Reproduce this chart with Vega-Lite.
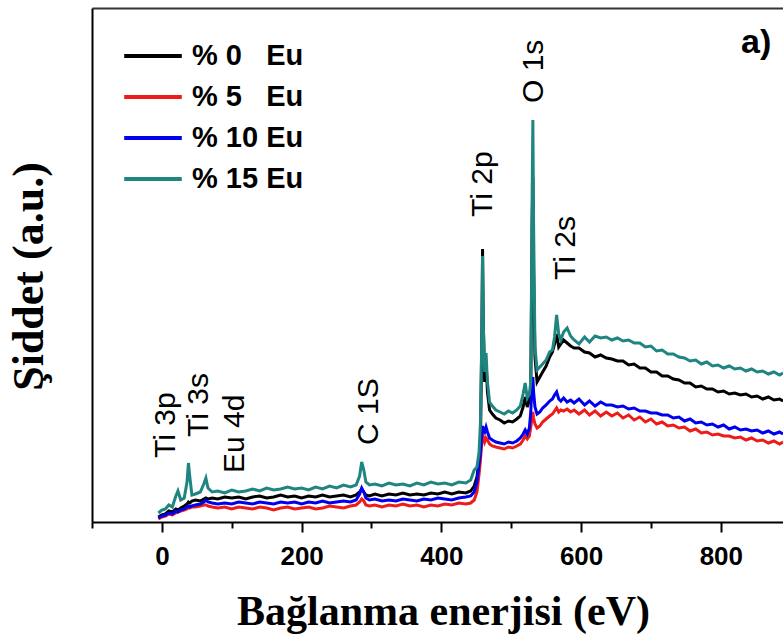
{
 "$schema": "https://vega.github.io/schema/vega-lite/v6.json",
 "width": 691,
 "height": 514,
 "autosize": {"type": "none"},
 "padding": {"left": 92, "top": 8, "right": 0, "bottom": 117},
 "background": "white",
 "config": {"view": {"stroke": null}, "font": "Liberation Sans"},
 "resolve": {"axis": {"x": "independent"}},
 "datasets": {
  "spectra": [
   {"e": -5, "a": 5, "b": 3, "c": 4, "d": 9},
   {"e": 0, "a": 7, "b": 5, "c": 6, "d": 12},
   {"e": 5, "a": 8, "b": 6, "c": 7, "d": 13},
   {"e": 10, "a": 11, "b": 8, "c": 9, "d": 17},
   {"e": 15, "a": 10, "b": 7, "c": 8, "d": 15},
   {"e": 20, "a": 13, "b": 9, "c": 11, "d": 26},
   {"e": 23, "a": 12, "b": 10, "c": 10, "d": 31},
   {"e": 27, "a": 14, "b": 11, "c": 12, "d": 22},
   {"e": 32, "a": 16, "b": 12, "c": 13, "d": 24},
   {"e": 36, "a": 18, "b": 13, "c": 15, "d": 40},
   {"e": 38, "a": 20, "b": 14, "c": 16, "d": 59},
   {"e": 40, "a": 19, "b": 14, "c": 15, "d": 45},
   {"e": 43, "a": 21, "b": 15, "c": 16, "d": 27},
   {"e": 48, "a": 22, "b": 15, "c": 17, "d": 28},
   {"e": 55, "a": 21, "b": 16, "c": 18, "d": 30},
   {"e": 60, "a": 23, "b": 17, "c": 20, "d": 38},
   {"e": 63, "a": 24, "b": 17, "c": 22, "d": 44},
   {"e": 66, "a": 23, "b": 16, "c": 20, "d": 34},
   {"e": 72, "a": 24, "b": 15, "c": 19, "d": 30},
   {"e": 80, "a": 23, "b": 14, "c": 18, "d": 31},
   {"e": 90, "a": 25, "b": 15, "c": 19, "d": 29},
   {"e": 100, "a": 24, "b": 13, "c": 18, "d": 32},
   {"e": 110, "a": 25, "b": 15, "c": 20, "d": 30},
   {"e": 120, "a": 23, "b": 14, "c": 19, "d": 31},
   {"e": 130, "a": 25, "b": 13, "c": 18, "d": 33},
   {"e": 140, "a": 26, "b": 15, "c": 20, "d": 31},
   {"e": 150, "a": 24, "b": 14, "c": 19, "d": 34},
   {"e": 160, "a": 25, "b": 12, "c": 18, "d": 32},
   {"e": 170, "a": 27, "b": 14, "c": 20, "d": 33},
   {"e": 180, "a": 25, "b": 15, "c": 19, "d": 35},
   {"e": 190, "a": 26, "b": 13, "c": 20, "d": 33},
   {"e": 200, "a": 24, "b": 14, "c": 18, "d": 34},
   {"e": 210, "a": 26, "b": 15, "c": 20, "d": 32},
   {"e": 220, "a": 25, "b": 13, "c": 19, "d": 35},
   {"e": 230, "a": 27, "b": 14, "c": 21, "d": 33},
   {"e": 240, "a": 25, "b": 16, "c": 19, "d": 36},
   {"e": 250, "a": 26, "b": 15, "c": 20, "d": 34},
   {"e": 260, "a": 27, "b": 14, "c": 21, "d": 37},
   {"e": 270, "a": 25, "b": 16, "c": 20, "d": 35},
   {"e": 278, "a": 27, "b": 17, "c": 22, "d": 37},
   {"e": 283, "a": 30, "b": 20, "c": 28, "d": 46},
   {"e": 286, "a": 33, "b": 23, "c": 34, "d": 60},
   {"e": 289, "a": 30, "b": 21, "c": 30, "d": 52},
   {"e": 292, "a": 27, "b": 17, "c": 24, "d": 40},
   {"e": 297, "a": 26, "b": 16, "c": 22, "d": 37},
   {"e": 305, "a": 28, "b": 17, "c": 23, "d": 38},
   {"e": 315, "a": 26, "b": 15, "c": 21, "d": 36},
   {"e": 325, "a": 28, "b": 17, "c": 22, "d": 39},
   {"e": 335, "a": 27, "b": 16, "c": 21, "d": 37},
   {"e": 345, "a": 29, "b": 18, "c": 23, "d": 38},
   {"e": 355, "a": 27, "b": 16, "c": 22, "d": 36},
   {"e": 365, "a": 28, "b": 17, "c": 21, "d": 39},
   {"e": 375, "a": 27, "b": 15, "c": 23, "d": 37},
   {"e": 385, "a": 29, "b": 17, "c": 22, "d": 40},
   {"e": 395, "a": 28, "b": 16, "c": 24, "d": 38},
   {"e": 405, "a": 30, "b": 18, "c": 23, "d": 39},
   {"e": 415, "a": 28, "b": 17, "c": 22, "d": 37},
   {"e": 425, "a": 30, "b": 19, "c": 24, "d": 40},
   {"e": 435, "a": 29, "b": 18, "c": 25, "d": 39},
   {"e": 442, "a": 31, "b": 19, "c": 26, "d": 42},
   {"e": 447, "a": 36, "b": 22, "c": 30, "d": 52},
   {"e": 451, "a": 45, "b": 30, "c": 40, "d": 55},
   {"e": 454, "a": 62, "b": 48, "c": 58, "d": 70},
   {"e": 456, "a": 80, "b": 62, "c": 70, "d": 100},
   {"e": 458, "a": 190, "b": 80, "c": 88, "d": 190},
   {"e": 459, "a": 273, "b": 89, "c": 96, "d": 266},
   {"e": 460, "a": 200, "b": 85, "c": 92, "d": 200},
   {"e": 462, "a": 140, "b": 80, "c": 90, "d": 150},
   {"e": 464, "a": 160, "b": 84, "c": 95, "d": 169},
   {"e": 466, "a": 130, "b": 82, "c": 90, "d": 140},
   {"e": 469, "a": 112, "b": 78, "c": 84, "d": 120},
   {"e": 473, "a": 108, "b": 76, "c": 82, "d": 116},
   {"e": 478, "a": 104, "b": 75, "c": 80, "d": 112},
   {"e": 484, "a": 102, "b": 74, "c": 79, "d": 110},
   {"e": 490, "a": 99, "b": 73, "c": 78, "d": 108},
   {"e": 496, "a": 101, "b": 75, "c": 80, "d": 111},
   {"e": 502, "a": 100, "b": 74, "c": 79, "d": 109},
   {"e": 508, "a": 103, "b": 76, "c": 81, "d": 112},
   {"e": 513, "a": 106, "b": 78, "c": 84, "d": 116},
   {"e": 517, "a": 115, "b": 82, "c": 88, "d": 128},
   {"e": 520, "a": 125, "b": 86, "c": 92, "d": 139},
   {"e": 523, "a": 115, "b": 83, "c": 88, "d": 124},
   {"e": 526, "a": 122, "b": 86, "c": 94, "d": 128},
   {"e": 528, "a": 135, "b": 95, "c": 110, "d": 140},
   {"e": 530, "a": 300, "b": 105, "c": 140, "d": 330},
   {"e": 531, "a": 345, "b": 110, "c": 145, "d": 402},
   {"e": 532, "a": 250, "b": 104, "c": 130, "d": 300},
   {"e": 534, "a": 165, "b": 98, "c": 115, "d": 175},
   {"e": 537, "a": 140, "b": 94, "c": 108, "d": 152},
   {"e": 541, "a": 145, "b": 96, "c": 110, "d": 155},
   {"e": 545, "a": 150, "b": 100, "c": 114, "d": 158},
   {"e": 550, "a": 156, "b": 103, "c": 117, "d": 162},
   {"e": 555, "a": 165, "b": 106, "c": 121, "d": 170},
   {"e": 559, "a": 170, "b": 108, "c": 123, "d": 172},
   {"e": 562, "a": 178, "b": 111, "c": 127, "d": 185},
   {"e": 565, "a": 188, "b": 114, "c": 130, "d": 207},
   {"e": 568, "a": 175, "b": 110, "c": 123, "d": 188},
   {"e": 571, "a": 178, "b": 112, "c": 121, "d": 182},
   {"e": 575, "a": 182, "b": 111, "c": 124, "d": 190},
   {"e": 580, "a": 179, "b": 113, "c": 120, "d": 194},
   {"e": 585, "a": 176, "b": 110, "c": 122, "d": 186},
   {"e": 590, "a": 174, "b": 112, "c": 119, "d": 182},
   {"e": 597, "a": 174, "b": 108, "c": 123, "d": 178},
   {"e": 605, "a": 170, "b": 112, "c": 117, "d": 185},
   {"e": 612, "a": 169, "b": 107, "c": 121, "d": 180},
   {"e": 620, "a": 165, "b": 111, "c": 116, "d": 186},
   {"e": 628, "a": 167, "b": 106, "c": 120, "d": 184},
   {"e": 636, "a": 164, "b": 110, "c": 117, "d": 185},
   {"e": 644, "a": 163, "b": 106, "c": 117, "d": 182},
   {"e": 652, "a": 161, "b": 109, "c": 115, "d": 184},
   {"e": 660, "a": 161, "b": 104, "c": 116, "d": 181},
   {"e": 668, "a": 157, "b": 107, "c": 113, "d": 182},
   {"e": 676, "a": 158, "b": 102, "c": 114, "d": 179},
   {"e": 684, "a": 154, "b": 105, "c": 111, "d": 179},
   {"e": 692, "a": 154, "b": 100, "c": 111, "d": 175},
   {"e": 700, "a": 150, "b": 103, "c": 109, "d": 176},
   {"e": 708, "a": 150, "b": 98, "c": 109, "d": 171},
   {"e": 716, "a": 146, "b": 100, "c": 107, "d": 172},
   {"e": 724, "a": 146, "b": 96, "c": 107, "d": 168},
   {"e": 732, "a": 143, "b": 97, "c": 104, "d": 168},
   {"e": 740, "a": 142, "b": 94, "c": 105, "d": 165},
   {"e": 748, "a": 139, "b": 95, "c": 101, "d": 164},
   {"e": 756, "a": 139, "b": 91, "c": 103, "d": 161},
   {"e": 764, "a": 135, "b": 93, "c": 99, "d": 162},
   {"e": 772, "a": 136, "b": 89, "c": 100, "d": 158},
   {"e": 780, "a": 133, "b": 90, "c": 97, "d": 160},
   {"e": 788, "a": 133, "b": 87, "c": 98, "d": 156},
   {"e": 796, "a": 130, "b": 88, "c": 95, "d": 157},
   {"e": 804, "a": 131, "b": 86, "c": 97, "d": 154},
   {"e": 812, "a": 128, "b": 86, "c": 93, "d": 156},
   {"e": 820, "a": 129, "b": 84, "c": 95, "d": 153},
   {"e": 828, "a": 127, "b": 85, "c": 92, "d": 154},
   {"e": 836, "a": 128, "b": 82, "c": 93, "d": 151},
   {"e": 844, "a": 125, "b": 84, "c": 91, "d": 153},
   {"e": 852, "a": 126, "b": 81, "c": 92, "d": 150},
   {"e": 860, "a": 123, "b": 82, "c": 89, "d": 151},
   {"e": 868, "a": 125, "b": 79, "c": 91, "d": 148},
   {"e": 876, "a": 122, "b": 81, "c": 88, "d": 150},
   {"e": 884, "a": 123, "b": 78, "c": 90, "d": 147},
   {"e": 889, "a": 121, "b": 80, "c": 88, "d": 149}
  ],
  "peaks": [
   {"e": 6, "v": 64, "t": "Ti 3p"},
   {"e": 53, "v": 85, "t": "Ti 3s"},
   {"e": 104, "v": 49, "t": "Eu 4d"},
   {"e": 297, "v": 77, "t": "C 1S"},
   {"e": 460, "v": 305, "t": "Ti 2p"},
   {"e": 533, "v": 419, "t": "O 1s"},
   {"e": 578, "v": 242, "t": "Ti 2s"}
  ],
  "panel": [{"e": 829, "v": 479, "t": "a)"}]
 },
 "layer": [
  {
   "data": {"name": "spectra"},
   "transform": [{"fold": ["a", "b", "c", "d"], "as": ["s", "v"]}],
   "mark": {"type": "line", "strokeWidth": 3, "clip": true},
   "encoding": {
    "x": {
     "field": "e", "type": "quantitative",
     "scale": {"domain": [-100, 889], "nice": false, "zero": false},
     "axis": {
      "orient": "bottom",
      "values": [-100, 0, 100, 200, 300, 400, 500, 600, 700, 800],
      "labelExpr": "datum.value % 200 === 0 && datum.value >= 0 ? datum.label : ''",
      "format": "d",
      "grid": false,
      "tickSize": {"condition": {"test": "datum.value % 200 === 0", "value": 10}, "value": 6},
      "tickWidth": 2,
      "tickColor": "black",
      "domainColor": "black",
      "domainWidth": 2,
      "labelFont": "Liberation Sans",
      "labelFontSize": 26,
      "labelFontWeight": "bold",
      "labelColor": "black",
      "labelPadding": 11,
      "labelFlush": false,
      "labelOverlap": false,
      "title": "Bağlanma enerjisi (eV)",
      "titleFont": "Liberation Serif",
      "titleFontSize": 42,
      "titleFontWeight": "bold",
      "titleColor": "black",
      "titlePadding": 22,
      "titleX": 351
     }
    },
    "y": {
     "field": "v", "type": "quantitative",
     "scale": {"domain": [0, 514], "nice": false},
     "axis": {
      "title": "Şiddet (a.u.)",
      "labels": false,
      "ticks": false,
      "grid": false,
      "domainColor": "black",
      "domainWidth": 2,
      "titleFont": "Liberation Serif",
      "titleFontSize": 44,
      "titleFontWeight": "bold",
      "titleColor": "black",
      "titlePadding": 41,
      "titleY": 268
     }
    },
    "color": {
     "field": "s", "type": "nominal",
     "scale": {"domain": ["a", "b", "c", "d"], "range": ["#000000", "#ee1b1b", "#0000ee", "#1f8580"]},
     "legend": {
      "title": null,
      "orient": "none",
      "legendX": 35,
      "legendY": 22,
      "symbolType": "M-1.2,0H1.2",
      "symbolSize": 2304,
      "symbolStrokeWidth": 4,
      "labelFont": "Liberation Sans",
      "labelFontSize": 29,
      "labelFontWeight": "bold",
      "labelColor": "black",
      "labelOffset": 13,
      "rowPadding": 0,
      "labelExpr": "datum.value === 'a' ? '% 0\u00a0\u00a0\u00a0Eu' : datum.value === 'b' ? '% 5\u00a0\u00a0\u00a0Eu' : datum.value === 'c' ? '% 10 Eu' : '% 15 Eu'"
     }
    }
   }
  },
  {
   "data": {"name": "peaks"},
   "mark": {"type": "text", "angle": 270, "align": "left", "baseline": "middle", "fontSize": 30, "font": "Liberation Sans", "color": "black"},
   "encoding": {
    "x": {"field": "e", "type": "quantitative", "axis": {"orient": "top", "labels": false, "ticks": false, "grid": false, "title": null, "domainColor": "#333333", "domainWidth": 2}},
    "y": {"field": "v", "type": "quantitative"},
    "text": {"field": "t"}
   }
  },
  {
   "data": {"name": "panel"},
   "mark": {"type": "text", "align": "left", "baseline": "middle", "fontSize": 34, "fontWeight": "bold", "font": "Liberation Sans", "color": "black"},
   "encoding": {
    "x": {"field": "e", "type": "quantitative", "axis": null},
    "y": {"field": "v", "type": "quantitative"},
    "text": {"field": "t"}
   }
  }
 ]
}
